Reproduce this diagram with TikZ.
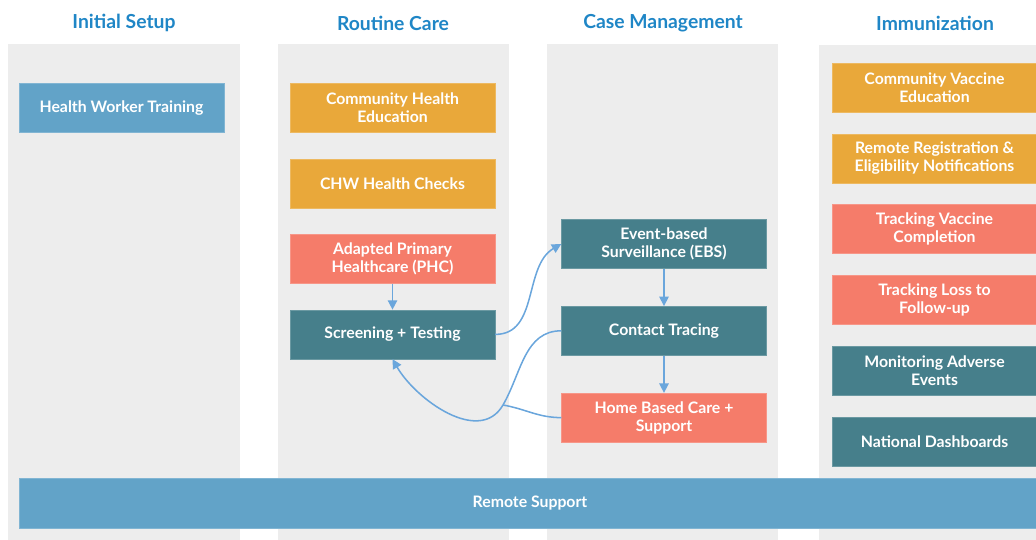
\documentclass[tikz,border=0pt]{standalone}
\usepackage{fontspec}
\setmainfont{Lato}
\usetikzlibrary{positioning, arrows.meta}

\definecolor{headblue}{HTML}{1F86C6}
\definecolor{lanegrey}{HTML}{EDEDED}
\definecolor{setupblue}{HTML}{62A3C8}
\definecolor{eduorange}{HTML}{E9A83A}
\definecolor{caresalmon}{HTML}{F57C6A}
\definecolor{trackteal}{HTML}{467F8B}
\definecolor{flowblue}{HTML}{6AA6DC}

\begin{document}
\begin{tikzpicture}[
    x=0.03cm, y=0.03cm,
    node distance=0.78cm,
    lane/.style={fill=lanegrey, draw=none},
    head/.style={text=headblue, font=\fontsize{16.5}{19}\selectfont\bfseries},
    box/.style={rectangle, draw=#1!80!white, fill=#1, text=white, minimum width=6.15cm, minimum height=1.47cm, align=center, inner sep=1pt, font=\fontsize{13.5}{15.3}\selectfont\bfseries},
    flow/.style={-{Triangle[length=8pt, width=8pt]}, draw=flowblue, line width=1.3pt},
    flowline/.style={draw=flowblue, line width=1.3pt}
]
\useasboundingbox (0,0) rectangle (1036,540);

% Lanes
\fill[lane] (8,0) rectangle (240,496);
\fill[lane] (278,0) rectangle (509,496);
\fill[lane] (547,0) rectangle (778,496);
\fill[lane] (819,0) rectangle (1036,495);

% Headers
\node[head] (hsetup) at (124,517) {Initial Setup};
\node[head] (hroutine) at (393,517) {Routine Care};
\node[head] (hcase) at (663,517) {Case Management};
\node[head] (himmun) at (935,517) {Immunization};

% Initial Setup
\node[box=setupblue] (training) at (121.5,432) {Health Worker Training};

% Routine Care
\node[box=eduorange] (commedu) at (392.5,432) {Community Health\\Education};
\node[box=eduorange, below=of commedu] (chw) {CHW Health Checks};
\node[box=caresalmon, below=of chw] (phc) {Adapted Primary\\Healthcare (PHC)};
\node[box=trackteal, below=of phc] (screen) {Screening + Testing};

% Case Management
\node[box=trackteal] (ebs) at (664,296) {Event-based\\Surveillance (EBS)};
\node[box=trackteal, below=1.12cm of ebs] (contact) {Contact Tracing};
\node[box=caresalmon, below=1.12cm of contact] (home) {Home Based Care +\\Support};

% Immunization
\node[box=eduorange] (vaccedu) at (934.5,452.5) {Community Vaccine\\Education};
\node[box=eduorange, below=0.64cm of vaccedu] (remreg) {Remote Registration \&\\Eligibility Notifications};
\node[box=caresalmon, below=0.64cm of remreg] (vacccomp) {Tracking Vaccine\\Completion};
\node[box=caresalmon, below=0.64cm of vacccomp] (lossfu) {Tracking Loss to\\Follow-up};
\node[box=trackteal, below=0.64cm of lossfu] (adverse) {Monitoring Adverse\\Events};
\node[box=trackteal, below=0.64cm of adverse] (dash) {National Dashboards};

% Remote Support
\node[box=setupblue, minimum width=30.66cm, minimum height=1.5cm] (remote) at (530,37) {Remote Support};

% Arrows
\coordinate (join) at (503,135);
\draw[flow] (phc) -- (screen);
\draw[flow] (screen.east) to[out=0, in=210] (ebs.west);
\draw[flow] (ebs) -- (contact);
\draw[flow] (contact) -- (home);
\draw[flow] (contact.west) to[out=180, in=60] (join) to[out=240, in=-60] (screen.south);
\draw[flowline] (home.west) to[out=180, in=-10] (join);

\end{tikzpicture}
\end{document}
